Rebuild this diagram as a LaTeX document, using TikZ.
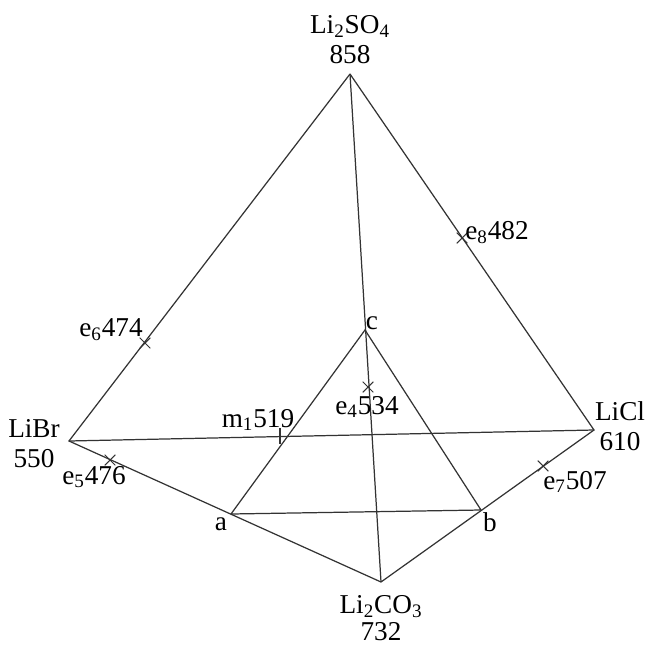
\documentclass[tikz,border=0pt]{standalone}
\usepackage{fontspec}
\setmainfont{Liberation Serif}
\usetikzlibrary{shapes.misc}

\begin{document}
\begin{tikzpicture}[x=0.02cm,y=-0.02cm,
  every node/.style={font=\fontsize{15.5}{17}\selectfont,inner sep=0pt},
  edge/.style={line width=0.7pt,black!80},
  xmark/.style={cross out,draw,black!80,line width=0.6pt,minimum size=0.19cm}]
  \useasboundingbox (0,0) rectangle (648,645);
  % corners of the prism
  \coordinate (so4) at (350,74);
  \coordinate (br) at (69,441);
  \coordinate (cl) at (594,430);
  \coordinate (co3) at (381,582);
  \coordinate (a) at (231,514);
  \coordinate (b) at (481,510);
  \coordinate (c) at (365,330);

  \draw[edge] (so4) -- (br) -- (co3) -- (cl) -- (so4);
  \draw[edge] (br) -- (cl);
  \draw[edge] (so4) -- (co3);
  \draw[edge] (a) -- (c) -- (b) -- (a);

  % eutectic points
  \foreach \n/\x/\y in {e6/145/343,e8/462/238,e4/368/387,e5/110/460,e7/543/466}
    \node[xmark] (\n) at (\x,\y) {};
  \coordinate (m1) at (280,436);
  \draw[edge] (m1) ++(0,-8) -- ++(0,16);

  \node[align=center] (so4lab) at (350,40) {Li\textsubscript{2}SO\textsubscript{4}\\858};
  \node[align=center] (brlab) at (34,444) {LiBr\\550};
  \node[align=center] (cllab) at (620,426) {LiCl\\610};
  \node[align=center,font=\fontsize{15.5}{15.5}\selectfont] (co3lab) at (381,618) {Li\textsubscript{2}CO\textsubscript{3}\\732};

  \node (e6lab) at (111,330) {e\textsubscript{6}474};
  \node (e8lab) at (497,233) {e\textsubscript{8}482};
  \node (e4lab) at (367,407) {e\textsubscript{4}534};
  \node (m1lab) at (258,420) {m\textsubscript{1}519};
  \node (e5lab) at (94,477) {e\textsubscript{5}476};
  \node (e7lab) at (575,482) {e\textsubscript{7}507};

  \node (clab) at (372,323) {c};
  \node (alab) at (221,524) {a};
  \node (blab) at (490,522) {b};
\end{tikzpicture}
\end{document}
